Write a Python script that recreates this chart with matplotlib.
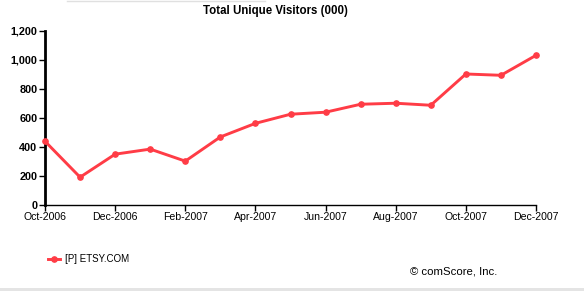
import matplotlib
matplotlib.use("Agg")
import matplotlib.pyplot as plt
from matplotlib.patches import Rectangle
from matplotlib.lines import Line2D

months = ["Oct-2006", "Nov-2006", "Dec-2006", "Jan-2007", "Feb-2007", "Mar-2007",
          "Apr-2007", "May-2007", "Jun-2007", "Jul-2007", "Aug-2007", "Sep-2007",
          "Oct-2007", "Nov-2007", "Dec-2007"]
visitors = [438, 190, 349, 384, 301, 468, 562, 625, 639, 694, 701, 687, 903, 894, 1032]
yticks = [0, 200, 400, 600, 800, 1000, 1200]
ytick_labels = ["0", "200", "400", "600", "800", "1,000", "1,200"]
series_name = "[P] ETSY.COM"
title = "Total Unique Visitors (000)"
credit = "\u00a9 comScore, Inc."

W, H = 584, 291
fig = plt.figure(figsize=(W / 100, H / 100), dpi=100)
plt.rcParams['font.family'] = ['Liberation Sans', 'DejaVu Sans']

left, right, top, bottom = 45, 536, 31, 204.7
ax = fig.add_axes([left / W, 1 - bottom / H, (right - left) / W, (bottom - top) / H])

red = "#ff3c46"
x = list(range(len(months)))
ax.plot(x, visitors, color=red, lw=2.1, marker="o", ms=3.8, mfc=red, mec=red,
        solid_capstyle="round", clip_on=False, zorder=3)

ax.set_xlim(0, len(months) - 1)
ax.set_ylim(0, 1200)
ax.set_yticks(yticks)
ax.set_yticklabels(ytick_labels, fontsize=7.8, fontweight="bold")
ax.set_xticks(x[::2])
ax.set_xticklabels(months[::2], fontsize=7.6)
for s in ["top", "right"]:
    ax.spines[s].set_visible(False)
ax.spines["left"].set_linewidth(2)
ax.spines["bottom"].set_linewidth(1)
ax.tick_params(axis="y", length=4, width=1, pad=1.5, direction="out")
ax.tick_params(axis="x", length=4, width=1, pad=1.5, direction="out")

fig.text(275 / W, 1 - 11 / H, title, ha="center", va="center", fontsize=8.3, fontweight="bold")

# legend
ly = 1 - 259 / H
fig.add_artist(Line2D([48 / W, 60 / W], [ly, ly], color=red, lw=2.1))
fig.add_artist(Line2D([54 / W], [ly], color=red, marker="o", ms=3.8, lw=0))
fig.text(65 / W, ly, series_name, ha="left", va="center", fontsize=7)
fig.text(454 / W, 1 - 271 / H, credit, ha="center", va="center", fontsize=8.2)

# frame decorations
fig.add_artist(Rectangle((0, 0), 1, 3 / H, transform=fig.transFigure, color="#e4e4e4", lw=0))
fig.add_artist(Line2D([67 / W, 265 / W], [1 - 0.5 / H, 1 - 0.5 / H], color="#e0e0e0", lw=1))

fig.savefig("out.png", dpi=100)
